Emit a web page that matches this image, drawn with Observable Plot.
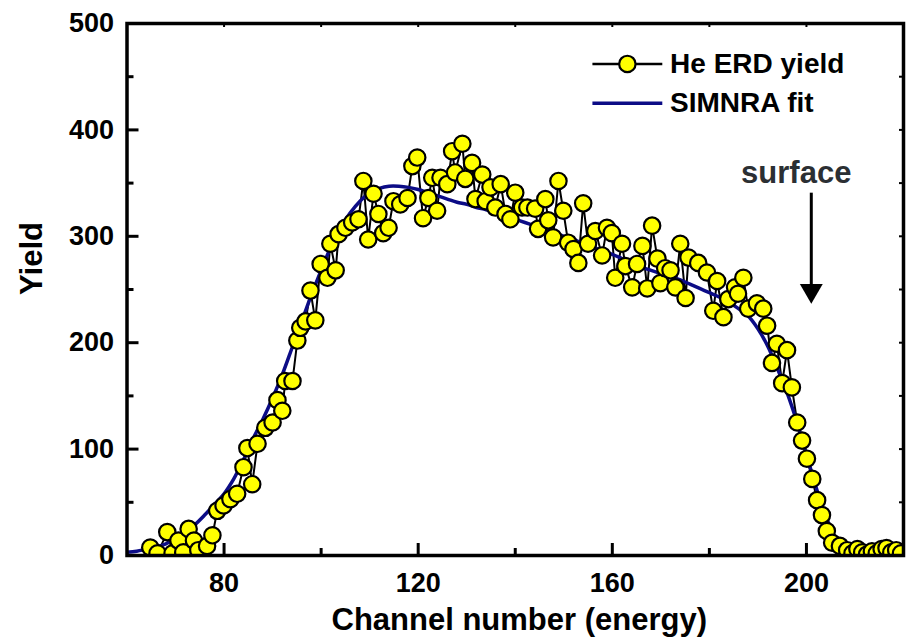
<!DOCTYPE html>
<html>
<head>
<meta charset="utf-8">
<script src="https://cdn.jsdelivr.net/npm/d3@7"></script>
<script src="https://cdn.jsdelivr.net/npm/@observablehq/plot@0.6"></script>
<style>
  html, body { margin: 0; padding: 0; background: #fff; }
  #chart { width: 912px; height: 643px; overflow: hidden; }
</style>
</head>
<body>
<div id="chart"></div>
<script>
// ---- Data ----
const erdChannel = [64.8,66.3,68.3,69.4,70.6,71.6,72.7,73.8,74.7,76.5,77.6,78.6,79.9,81.3,82.7,84.0,84.8,85.8,86.9,88.5,90.0,91.0,92.0,92.6,94.1,95.1,95.7,96.8,97.8,98.8,99.9,101.3,101.9,103.0,103.6,105.0,106.4,107.7,108.7,109.7,110.8,111.8,112.8,113.9,114.9,116.3,117.8,118.8,119.8,121.0,122.1,122.9,123.9,124.6,126.0,127.0,127.6,129.1,129.7,131.1,131.8,133.2,133.9,134.9,135.9,137.0,138.0,139.0,140.0,141.4,142.5,144.1,144.7,146.2,146.8,147.8,148.9,149.9,150.9,152.0,153.0,154.0,155.0,156.5,157.9,158.9,159.9,160.6,162.0,162.7,164.1,165.1,166.2,167.2,168.2,169.3,169.9,170.9,172.0,173.0,174.0,175.1,175.7,177.7,179.5,180.8,181.6,182.9,183.9,185.3,185.9,187.0,188.0,189.8,191.1,191.9,192.9,193.9,195.0,196.0,197.0,198.1,199.1,200.1,201.2,202.2,203.2,204.2,205.3,206.9,208.4,209.5,210.5,211.5,212.5,213.5,214.5,215.5,216.5,217.5,218.5,219.5];
const erdYield   = [7.5,2,22,2,14,3,25,14,5,9,19,42,47,53,58,83,101,67,105,120,125,146,136,164,164,202,214,220,249,221,274,261,293,268,302,308,313,316,352,297,340,321,303,308,333,330,336,366,374,317,336,355,324,355,349,380,360,387,354,369,335,358,333,346,327,349,321,316,341,327,327,326,307,335,315,299,352,324,294,288,275,331,293,305,282,308,303,261,293,272,252,274,291,251,310,279,256,270,268,252,293,242,280,275,266,230,258,224,241,252,246,261,232,237,232,216,181,199,162,193,158,125,108,91,72,52,38,23,12,9,5,2,6,3,1,4,2,6,7,3,5,2];

const fitChannel = [60,62,64,66,68,70,72,74,76,78,80,82,84,86,88,90,92,94,96,98,100,102,104,106,108,110,112,114,116,118,120,122,124,126,128,130,132,134,136,138,140,142,144,146,148,150,152,154,156,158,160,162,164,166,168,170,172,174,176,178,180,182,184,186,188,190,192,194,196,198,200,202,204,206,208,210,212,216,220];
const fitYield   = [3,4,6,8,11,16,22,29,38,48,58,72,90,110,128,148,170,195,220,245,268,290,308,322,333,341,345,347,347,346,344,341,338,335,332,330,327,325,322,319,316,313,310,307,303,300,297,293,290,286,283,279,275,271,268,265,262,259,255,251,247,243,238,232,225,213,197,176,153,126,95,64,37,16,5,1,0,0,0];

const xTicksMajor = [80,120,160,200];
const xTicksMinor = [100,140,180];
const yTicksMajor = [0,100,200,300,400,500];
const yTicksMinor = [50,150,250,350,450];

const xLabel = "Channel number (energy)";
const yLabel = "Yield";
const seriesNames = ["He ERD yield", "SIMNRA fit"];
const annotationText = "surface";
const annotationChannel = 201;
const arrowFrom = 341;
const arrowTo = 236;

// ---- Layout ----
const W = 912, H = 643;
const mL = 126.5, mR = 9, mT = 23, mB = 88;
const frameW = W - mL - mR, frameH = H - mT - mB;
const font = "'Liberation Sans', Arial, Helvetica, sans-serif";

const erd = erdChannel.map((c, i) => ({c, v: erdYield[i]}));
const fit = fitChannel.map((c, i) => ({c, v: fitYield[i]}));

// legend anchor positions (in data units, placed at the upper right)
const legX1 = 155.9, legX2 = 170.3, legXm = 163.1, legText = 171.9;
const legY = [462, 425];

const chart = Plot.plot({
  width: W, height: H,
  marginLeft: mL, marginRight: mR, marginTop: mT, marginBottom: mB,
  style: {fontFamily: font, fontWeight: "bold", color: "black", background: "white"},
  x: {domain: [60, 220]},
  y: {domain: [0, 500]},
  marks: [
    Plot.line(erd, {x: "c", y: "v", stroke: "black", strokeWidth: 2, clip: true}),
    Plot.line(fit, {x: "c", y: "v", stroke: "#0c0c86", strokeWidth: 3.5, clip: true, curve: "catmull-rom"}),
    Plot.dot(erd, {x: "c", y: "v", r: 8.2, fill: "#ffff00", stroke: "black", strokeWidth: 2.2, clip: true}),
    Plot.frame({stroke: "black", strokeWidth: 3.5}),
    Plot.tickX(xTicksMajor, {x: d => d, stroke: "black", strokeWidth: 3, insetTop: frameH - 12}),
    Plot.tickX(xTicksMinor, {x: d => d, stroke: "black", strokeWidth: 3, insetTop: frameH - 7}),
    Plot.tickX(xTicksMajor.concat(xTicksMinor), {x: d => d, stroke: "black", strokeWidth: 2, insetBottom: frameH - 4}),
    Plot.tickY(yTicksMajor, {y: d => d, stroke: "black", strokeWidth: 3, insetRight: frameW - 12}),
    Plot.tickY(yTicksMinor, {y: d => d, stroke: "black", strokeWidth: 3, insetRight: frameW - 7}),
    Plot.tickY(yTicksMajor.concat(yTicksMinor), {y: d => d, stroke: "black", strokeWidth: 2, insetLeft: frameW - 4}),
    Plot.axisX({ticks: xTicksMajor, tickSize: 0, tickPadding: 17, fontSize: 27, label: null}),
    Plot.axisY({ticks: yTicksMajor, tickSize: 0, tickPadding: 13, fontSize: 27, label: null}),
    Plot.text([xLabel], {frameAnchor: "bottom", lineAnchor: "middle", dx: 4, dy: 65, fontSize: 31, fontWeight: "bold", fill: "black"}),
    Plot.text([yLabel], {frameAnchor: "left", textAnchor: "middle", lineAnchor: "middle", rotate: -90, dx: -94.5, dy: -31, fontSize: 31, fontWeight: "bold", fill: "black"}),
    Plot.link([0], {x1: legX1, x2: legX2, y1: legY[0], y2: legY[0], stroke: "black", strokeWidth: 2.5}),
    Plot.dot([0], {x: legXm, y: legY[0], r: 8.2, fill: "#ffff00", stroke: "black", strokeWidth: 2.2}),
    Plot.link([0], {x1: legX1, x2: legX2, y1: legY[1], y2: legY[1], stroke: "#0c0c86", strokeWidth: 3.5}),
    Plot.text(seriesNames, {x: legText, y: (d, i) => legY[i], text: d => d, textAnchor: "start", fontSize: 28, fontWeight: "bold", fill: "black"}),
    Plot.text([annotationText], {x: annotationChannel - 3.1, y: 359, text: d => d, fontSize: 31, fontWeight: "bold", fill: "#2b2f33"}),
    Plot.link([0], {x1: annotationChannel, x2: annotationChannel, y1: arrowFrom, y2: arrowTo + 12, stroke: "black", strokeWidth: 3}),
    Plot.dot([0], {x: annotationChannel, y: arrowTo + 13, symbol: "triangle", rotate: 180, r: 8.5, fill: "black", stroke: "none"})
  ]
});
document.getElementById("chart").appendChild(chart);
</script>
</body>
</html>
